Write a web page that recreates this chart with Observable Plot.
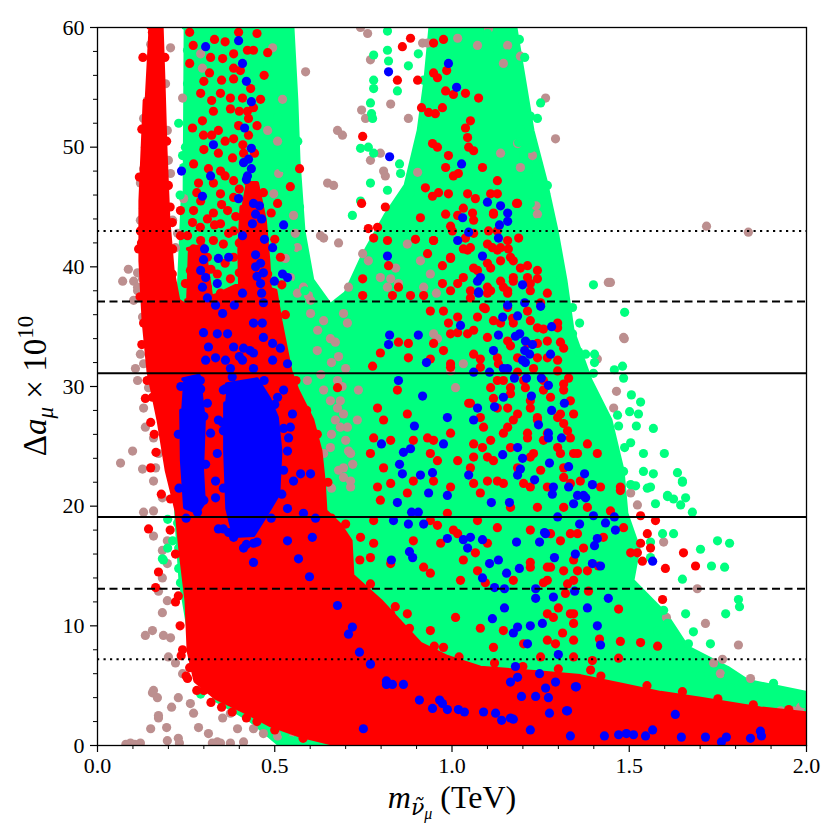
<!DOCTYPE html>
<html><head><meta charset="utf-8">
<script src="https://cdn.jsdelivr.net/npm/d3@7"></script>
<script src="https://cdn.jsdelivr.net/npm/@observablehq/plot@0.6"></script>
<style>body{margin:0;background:#fff}#chart{width:840px;height:840px}</style>
</head><body><div id="chart"></div>
<script>
const xMajorTicks=[0,0.5,1.0,1.5,2.0];
const xMinorTicks=[0.1,0.2,0.3,0.4,0.6,0.7,0.8,0.9,1.1,1.2,1.3,1.4,1.6,1.7,1.8,1.9];
const yMajorTicks=[0,10,20,30,40,50,60];
const yMinorTicks=[2,4,6,8,12,14,16,18,22,24,26,28,32,34,36,38,42,44,46,48,52,54,56,58];
const lines1sigma=[19.1,31.1];
const lines2sigma=[13.1,37.1];
const lines3sigma=[7.2,43.0];

// dense regions (outline of the point clouds)
const greenRegion=[[0.243,60],[0.550,60],[0.561,53.9],[0.567,48.9],[0.581,43.0],[0.606,38.9],[0.657,36.8],[0.700,37.8],[0.748,40.9],[0.812,44.3],[0.869,46.8],[0.906,51.4],[0.925,55.6],[0.939,60],[1.179,60],[1.199,56.4],[1.227,51.4],[1.264,47.2],[1.295,43.0],[1.320,38.9],[1.340,34.7],[1.391,30.5],[1.447,27.2],[1.481,23.0],[1.492,19.4],[1.526,16.5],[1.509,13.8],[1.602,11.0],[1.664,8.2],[1.777,6.5],[1.834,5.4],[2.0,4.4],[2.0,0],[0.516,0],[0.432,2.1],[0.333,3.8],[0.262,8.8],[0.234,13.8],[0.223,18.8],[0.212,27.2],[0.228,37.2],[0.240,45.5]];
const redRegion=[[0.144,60],[0.181,60],[0.186,55.6],[0.192,49.7],[0.200,43.9],[0.212,39.7],[0.228,37.2],[0.248,36.8],[0.276,37.2],[0.333,37.6],[0.389,38.4],[0.460,38.4],[0.502,38.0],[0.516,35.5],[0.544,31.3],[0.564,29.7],[0.606,27.2],[0.629,24.6],[0.638,22.1],[0.643,19.6],[0.685,18.4],[0.714,17.1],[0.719,14.2],[0.798,12.1],[0.911,8.5],[0.987,7.4],[1.080,6.5],[1.250,6.1],[1.362,5.8],[1.475,5.1],[1.588,4.4],[1.701,3.9],[1.870,3.1],[2.0,2.7],[2.0,0],[0.685,0],[0.573,0.8],[0.488,1.7],[0.417,2.8],[0.333,4.0],[0.276,5.4],[0.257,7.9],[0.251,12.1],[0.234,16.3],[0.223,19.6],[0.195,23.0],[0.172,27.2],[0.144,31.2],[0.130,35.5],[0.121,40.5],[0.121,45.5],[0.127,49.7],[0.133,53.9]];
const redCore1=[[0.418,47.0],[0.450,47.0],[0.472,43.9],[0.482,40.5],[0.488,37.2],[0.403,37.2],[0.400,41.4],[0.406,45.0]];
const redCore2=[[0.255,41.5],[0.300,41.8],[0.322,37.2],[0.250,37.2]];
const blueBlob=[[0.365,30.2],[0.450,30.6],[0.484,29.0],[0.506,27.4],[0.516,24.6],[0.510,21.0],[0.478,19.4],[0.440,17.6],[0.385,17.5],[0.366,19.8],[0.360,24.6],[0.360,28.6]];
const blueStrip=[[0.242,30.6],[0.286,30.9],[0.300,27.2],[0.295,23.0],[0.300,20.3],[0.282,19.5],[0.247,19.9],[0.238,23.8],[0.236,28.0]];

const brownPts=[[0.113,39.5],[0.102,38.8],[0.127,39.0],[0.141,39.9],[0.113,38.0],[0.121,43.9],[0.130,45.5],[0.121,47.0],[0.130,48.2],[0.135,50.0],[0.130,52.4],[0.141,53.9],[0.150,58.6],[0.164,59.1],[0.206,58.3],[0.192,55.3],[0.197,51.4],[0.200,48.9],[0.206,47.8],[0.197,46.8],[0.186,45.5],[0.212,43.9],[0.226,42.8],[0.220,41.6],[0.243,45.7],[0.240,54.1],[0.291,57.8],[0.296,56.6],[0.494,58.3],[0.522,54.0],[0.480,51.4],[0.508,50.5],[0.497,46.1],[0.511,47.8],[0.553,44.3],[0.558,42.8],[0.564,41.6],[0.530,40.7],[0.544,39.1],
[0.113,38.3],[0.102,37.2],[0.127,35.8],[0.150,34.7],[0.121,32.7],[0.130,31.9],[0.107,31.5],[0.113,30.5],[0.144,29.9],[0.130,28.2],[0.135,26.6],[0.158,25.7],[0.099,24.6],[0.127,23.1],[0.158,22.1],[0.183,20.7],[0.158,19.6],[0.197,17.1],[0.164,23.2],[0.172,24.4],[0.065,23.6],[0.087,39.8],[0.071,38.8],
[0.130,19.5],[0.158,17.5],[0.183,16.3],[0.197,15.2],[0.183,14.0],[0.172,12.9],[0.197,12.1],[0.183,11.1],[0.155,9.6],[0.186,9.2],[0.206,9.0],[0.200,7.4],[0.220,6.9],[0.240,6.0],[0.155,4.4],[0.169,4.0],[0.228,4.0],[0.262,3.5],[0.172,2.3],[0.271,2.7],[0.285,1.5],[0.150,1.4],[0.197,0.4],[0.093,0.2],[0.121,0.2],[0.228,0.6],[0.313,1.0],[0.353,2.3],[0.375,2.7],[0.395,1.4],[0.440,1.4],[0.338,0.3],[0.375,0.2],[0.412,0.3],[0.468,1.0],[0.508,0.8],[0.544,1.0],[0.581,1.5],[0.135,9.2],[0.172,2.5],[0.195,1.5],[0.209,3.2],[0.158,4.6],[0.231,0.2],[0.324,0.2],[0.347,0.2],[0.080,0.1],[0.105,0.1],
[1.842,5.6],[1.715,10.2],[1.808,8.4],[1.763,7.2],[1.738,6.9],[1.757,6.0],[1.692,13.1],[1.605,10.7],[1.597,17.0],[1.523,20.1],[1.504,21.1],[1.927,2.9],[1.963,2.9],[1.992,2.3],[1.983,3.2],[1.949,2.7],[1.447,38.7],[1.486,34.0],[1.464,29.6],[1.456,28.2],[1.410,32.3],[1.718,43.4],[1.836,42.9],
[0.742,60.0],[0.762,59.5],[0.587,56.3],[0.770,57.3],[0.917,58.7],[0.931,58.7],[1.016,59.1],[1.072,58.5],[1.103,59.9],[1.145,57.0],[1.193,57.6],[1.157,58.5],[1.264,54.1],[1.292,50.7],[0.677,51.4],[0.691,51.0],[0.745,53.1],[0.756,52.4],[0.827,53.6],[0.877,52.4],[0.798,49.5],[0.770,48.9],[0.807,48.0],[0.812,47.6],[0.903,47.9],[0.649,47.0],[0.666,46.8],[1.137,49.5],[1.185,50.3],[1.227,49.3],[1.241,44.4],[1.193,48.3],[0.629,42.6],[0.638,42.4],[0.680,42.0],[0.708,38.3],[0.595,37.6],[0.748,41.1],[0.764,40.5],[0.841,39.9],[0.874,41.9],[0.911,40.5],[0.939,39.4],[0.827,39.0],[0.798,39.1],
[0.705,35.3],[0.694,36.1],[0.671,33.7],[0.677,30.5],[0.685,28.8],[0.671,27.2],[0.705,26.6],[0.708,24.6],[0.694,22.4],[0.714,21.6],[0.733,27.2],[0.736,29.7],[0.959,34.0],[0.948,34.4],[0.996,31.3],[1.032,31.9],[1.010,29.9],[0.849,38.6],[0.818,38.3],[0.920,38.3],[1.441,38.7],[1.484,34.1],[1.237,45.1],[0.956,37.8],
[0.581,38.3],[0.601,36.1],[0.638,35.5],[0.621,34.7],[0.657,34.0],[0.592,30.5],[0.638,29.7],[0.657,28.8],[0.677,28.2],[0.694,27.7],[0.685,26.6],[0.657,24.9],[0.638,24.4],[0.714,24.4],[0.694,23.2],[0.714,22.1],[0.601,37.2],[0.564,37.8],[0.660,32.0],[0.680,32.5],[0.700,31.5],[0.690,30.0],[0.660,26.0],[0.700,25.5],[0.720,23.5],[0.680,23.0],[0.660,21.5],[0.620,33.0],[0.630,31.0]];

const greenPts=[[0.240,49.3],[0.243,48.3],[0.248,50.0],[0.254,55.3],[0.271,56.0],[0.254,58.1],[0.480,56.6],[0.494,55.3],[0.508,52.5],[0.502,51.8],[0.508,49.1],[0.522,48.3],[0.536,45.5],[0.544,41.6],[0.553,39.9],[0.539,38.6],[0.229,52.0],[0.233,46.0],[0.565,50.5],[0.570,45.0],[0.575,41.0],[0.585,38.0],
[0.818,59.7],[0.818,58.1],[0.779,57.7],[0.821,57.2],[0.877,56.8],[0.905,57.8],[0.920,55.6],[0.779,55.6],[0.779,54.9],[0.846,54.7],[0.770,53.7],[0.773,52.8],[0.776,52.4],[0.742,49.9],[0.764,50.0],[0.779,49.5],[0.852,48.6],[0.855,47.8],[0.770,47.0],[0.818,46.4],[0.855,45.5],[0.883,46.2],[0.719,44.3],[0.742,45.5],[1.250,53.7],[1.199,53.7],[1.221,52.6],[1.241,52.4],[1.193,51.5],[1.188,50.4],[1.221,49.9],[1.202,49.3],[1.236,47.6],[1.213,47.6],[1.269,46.8],[1.264,46.1],[1.221,45.3],[1.244,43.7],[1.269,43.3],[1.272,42.4],[1.292,39.9],[1.286,38.8],[1.399,38.5],[1.100,59.5],[1.114,58.9],[1.128,58.1],[1.157,57.8],[1.190,59.0],[1.205,57.5],[0.960,59.5],[0.955,58.0],
[1.306,38.8],[1.340,36.6],[1.487,36.2],[1.360,35.3],[1.340,34.4],[1.357,32.9],[1.377,32.7],[1.402,32.7],[1.402,32.0],[1.481,31.7],[1.458,31.4],[1.484,30.7],[1.399,31.1],[1.351,30.2],[1.506,29.3],[1.532,28.7],[1.501,27.9],[1.526,27.7],[1.467,27.6],[1.470,26.7],[1.520,26.7],[1.568,26.5],[1.599,24.4],[1.540,24.4],[1.487,24.9],[1.504,25.3],[1.540,22.9],[1.568,22.7],[1.636,22.8],[1.650,22.1],[1.484,22.9],[1.518,21.7],[1.551,21.5],[1.608,20.8],[1.659,20.7],
[1.504,21.8],[1.560,21.6],[1.650,22.0],[1.608,20.9],[1.625,20.6],[1.645,20.1],[1.678,19.5],[1.574,20.2],[1.594,17.7],[1.625,17.7],[1.560,17.0],[1.701,16.4],[1.749,17.1],[1.783,16.9],[1.732,15.0],[1.769,14.9],[1.560,15.7],[1.650,13.9],[1.808,12.2],[1.811,11.6],[1.772,11.0],[1.659,11.0],[1.681,9.5],[1.729,8.5],[1.780,5.8],[1.819,5.2],[1.870,4.3],[1.907,5.2],[1.955,3.6],[1.992,3.5],[1.927,4.3],[1.850,4.4],[1.786,4.8],[1.735,5.6],[1.701,5.8],[1.673,6.5],[1.636,6.7],[1.622,7.7],[1.636,8.8],[1.608,10.2],[1.580,9.6],[1.667,8.5],[1.560,11.3],[1.597,11.3],
[0.198,16.5],[0.229,16.5],[0.186,15.5],[0.229,14.8],[0.254,14.6],[0.234,13.6],[0.262,13.4],[0.291,4.3],[0.198,18.9],[0.226,18.6],[0.212,17.1],[0.183,15.6],[0.530,1.0],[0.545,0.4],[0.560,1.5]];

const redPts=[[0.260,59.6],[0.260,57.0],[0.319,57.5],[0.353,57.4],[0.384,57.8],[0.398,59.6],[0.423,58.1],[0.440,58.1],[0.480,57.9],[0.384,56.6],[0.403,56.4],[0.316,56.2],[0.384,55.7],[0.432,54.9],[0.291,54.5],[0.322,53.9],[0.347,54.5],[0.375,54.1],[0.409,54.1],[0.423,53.0],[0.327,53.0],[0.375,53.2],[0.440,53.3],[0.426,52.4],[0.268,51.6],[0.296,52.2],[0.341,51.4],[0.398,51.8],[0.384,50.7],[0.426,51.0],[0.299,51.0],[0.322,51.0],[0.341,49.5],[0.381,49.1],[0.271,48.6],[0.313,48.2],[0.347,48.0],[0.412,49.5],[0.443,49.5],[0.285,47.0],[0.327,47.0],[0.384,47.2],[0.291,45.5],[0.347,46.1],[0.384,45.8],[0.468,46.2],[0.508,45.3],[0.271,44.7],[0.327,44.5],[0.367,44.7],[0.268,43.7],[0.347,43.6],[0.384,43.0],[0.254,42.6],[0.291,42.2],[0.327,42.2],[0.355,41.9],[0.271,41.5],[0.285,40.5],[0.384,40.8],[0.412,41.1],[0.516,40.8],[0.262,39.7],[0.338,39.4],[0.375,39.0],[0.426,39.7],[0.480,39.4],[0.248,38.6],[0.310,38.3],[0.347,37.8],[0.389,38.0],[0.570,48.2],[0.544,46.7],[0.234,44.7],[0.234,42.6],
[0.270,58.5],[0.330,59.0],[0.360,58.8],[0.450,59.5],[0.470,56.0],[0.460,54.0],[0.300,55.5],[0.350,55.6],[0.400,53.0],[0.450,51.8],[0.360,50.5],[0.410,50.2],[0.300,49.8],[0.280,46.2],[0.360,47.6],[0.400,46.5],[0.310,44.0],[0.350,45.2],[0.390,44.2],[0.290,43.3],[0.330,43.5],[0.370,42.8],[0.400,42.0],[0.310,40.8],[0.360,40.3],[0.400,39.5],[0.280,39.0],[0.320,39.8],[0.490,44.5],[0.500,42.3],[0.520,38.5],[0.480,37.9],
[0.130,44.9],[0.121,43.0],[0.124,42.0],[0.200,46.8],[0.211,43.7],[0.197,40.5],[0.211,39.4],[0.130,35.3],[0.155,29.1],[0.150,23.2],[0.206,20.6],[0.144,18.1],[0.172,14.5],[0.164,13.2],[0.254,5.6],[0.155,59.6],
[0.128,57.5],[0.190,57.5],[0.125,51.5],[0.195,50.5],[0.118,47.5],[0.205,45.0],[0.116,41.5],[0.212,41.5],[0.120,37.5],[0.125,33.5],[0.135,29.0],[0.150,27.0],[0.165,24.5],[0.180,21.0],[0.205,18.0],[0.220,16.0],[0.228,12.5],[0.233,10.0],[0.236,7.5],[0.250,5.8],[0.280,4.6],[0.320,3.6],[0.380,2.8],[0.450,2.0],
[0.883,59.1],[0.860,58.4],[0.948,58.7],[0.976,59.0],[0.846,55.6],[0.903,55.6],[0.948,56.2],[0.959,55.8],[0.985,56.4],[0.982,54.7],[1.004,54.4],[1.038,54.5],[1.075,54.1],[0.914,53.3],[0.934,52.9],[0.953,52.8],[0.973,53.3],[1.052,52.2],[1.038,51.6],[0.748,50.9],[1.044,50.8],[0.945,50.3],[0.959,50.0],[1.047,50.0],[1.061,49.7],[0.990,49.3],[1.086,48.3],[0.982,48.3],[1.018,47.8],[1.004,47.6],[0.925,46.6],[0.945,45.9],[0.962,46.2],[0.990,46.1],[1.044,46.1],[1.066,45.7],[1.109,46.1],[1.128,46.1],[1.128,47.2],[0.745,45.3],[0.812,45.0],[0.911,44.1],[0.982,44.4],[1.016,44.3],[1.058,44.5],[1.117,44.5],[1.182,45.3],[0.764,43.2],[0.790,43.3],[0.779,42.4],[0.818,42.2],[0.897,42.3],[0.948,42.2],[1.001,43.0],[1.038,42.4],[1.061,42.8],[1.103,43.0],[1.188,42.4],[1.032,41.5],[1.052,41.6],[1.114,41.6],[1.137,41.6],[1.159,41.5],[0.821,40.1],[0.931,41.1],[0.973,40.1],[0.996,40.7],[1.061,39.9],[1.100,40.3],[1.137,40.5],[1.173,40.5],[1.213,40.1],[1.241,39.7],[0.748,39.0],[0.849,38.3],[0.883,37.6],[0.973,38.6],[1.016,38.6],[1.052,38.0],[1.100,38.3],[1.145,38.3],[1.173,38.8],[1.213,39.1],[1.241,39.0],
[1.032,44.9],[1.117,44.4],[1.185,45.3],[1.061,43.9],[0.996,43.4],[1.128,43.0],[1.100,41.9],[1.157,42.2],[0.996,40.8],[1.044,41.4],[1.128,41.4],[1.165,40.8],[1.193,39.9],[1.109,39.9],[1.072,39.7],[1.032,39.1],[1.137,38.8],[1.173,39.1],[1.221,38.6],[1.109,38.0],[1.157,37.8],[1.052,37.4],[1.089,36.6],[1.157,36.6],[1.213,36.3],[1.250,37.0],[0.976,36.3],[1.016,35.8],[1.072,35.8],[1.117,35.5],[1.173,35.3],[1.241,34.9],[1.298,35.3],[0.996,34.4],[1.044,34.4],[1.100,34.1],[1.157,33.8],[1.213,33.6],[1.269,33.8],[1.315,33.2],[0.976,33.0],[1.061,32.7],[1.128,32.4],[1.185,32.4],[1.241,32.4],[1.298,32.2],[0.996,31.9],[1.080,31.6],[1.145,30.5],[1.202,30.5],[1.258,30.5],[1.315,30.2],[1.109,29.9],[1.165,29.4],[1.221,28.8],[1.278,29.1],[1.334,28.8],[1.052,28.6],[1.128,28.2],[1.185,27.7],[1.241,27.4],[1.298,27.4],[1.343,27.7],[1.080,27.4],[1.157,26.6],[1.213,26.1],[1.269,26.1],[1.326,26.3],[1.109,25.5],[1.165,24.9],[1.230,24.4],[1.298,24.9],[1.343,24.4],[1.061,25.2],[1.117,23.8],[1.185,23.2],[1.250,23.0],[1.315,23.2],[1.052,23.2],[1.128,22.1],[1.202,21.9],[1.269,21.6],[1.334,21.9],[1.061,21.9],[0.996,21.6],[0.948,25.5],[0.959,23.8],[0.996,26.1],[0.948,33.6],[0.948,42.2],[0.996,38.0],
[0.748,37.6],[0.832,37.6],[0.920,37.6],[0.939,36.3],[0.990,35.3],[1.016,34.5],[1.061,34.7],[0.849,33.7],[0.877,33.6],[0.798,32.8],[0.776,31.7],[0.877,32.4],[0.939,32.3],[0.996,31.6],[1.080,32.3],[1.094,36.5],[1.100,37.8],[1.157,38.0],[1.221,38.0],[1.269,37.8],[1.137,35.3],[1.171,35.7],[1.221,35.5],[1.258,34.8],[1.298,34.9],[1.306,33.7],[1.165,33.4],[1.241,33.6],[1.269,32.4],[1.131,31.9],[1.185,31.2],[1.230,31.5],[1.298,31.3],[1.128,30.5],[1.165,29.9],[1.207,29.9],[1.258,29.7],[1.315,29.7],[1.047,28.6],[1.117,29.0],[1.157,28.2],[1.221,28.2],[1.306,27.7],[1.173,27.2],[1.241,27.2],[1.315,26.9],[1.089,26.6],[1.145,26.1],[1.213,25.7],[1.258,25.5],[1.334,25.7],[1.382,25.2],[1.086,24.9],[1.061,24.1],[1.100,24.1],[1.221,24.1],[1.306,24.4],[1.354,24.4],[1.410,24.4],[1.016,23.8],[1.100,22.1],[1.145,21.9],[1.221,21.6],[1.315,22.4],[1.362,22.1],[1.419,21.6],[1.475,21.6],[1.080,21.1],[1.165,19.9],[1.241,19.9],[1.315,19.9],[1.382,19.9],[1.447,19.6],[1.484,18.2],[1.427,17.4],[1.354,17.7],[1.278,17.7],[1.221,18.0],[1.128,18.2],[1.072,18.8],[1.016,17.7],
[0.677,29.9],[0.790,28.2],[0.846,29.7],[0.874,27.7],[0.807,27.2],[0.827,25.5],[0.891,25.5],[0.931,25.7],[0.939,24.4],[0.779,25.7],[0.770,24.4],[0.807,23.2],[0.827,21.9],[0.891,22.1],[0.948,22.1],[0.790,21.6],[0.874,21.1],[0.798,20.5],[0.987,19.4],[0.939,18.8],[0.779,18.8],[0.742,17.4],[0.891,17.1],[0.968,16.9],[0.779,16.9],[0.770,15.7],[0.827,15.2],[0.920,14.9],[1.032,15.5],[1.072,14.6],[1.221,14.9],[1.278,14.9],[1.354,14.6],
[0.959,18.4],[1.004,18.0],[1.100,16.9],[1.066,16.1],[1.221,15.3],[1.269,14.9],[1.315,14.6],[0.939,14.4],[1.024,13.8],[1.094,13.6],[1.173,13.8],[1.258,13.6],[1.326,13.5],[1.010,10.7],[1.080,9.8],[1.117,8.2],[1.145,9.6],[1.269,11.0],[1.334,11.0],[1.202,8.5],[1.269,8.8],[1.343,8.8],[1.250,7.4],[1.343,7.4],[0.976,8.2],[0.939,9.6],[0.874,11.0],[0.827,11.0],[0.846,10.2],[0.846,8.8],
[1.475,21.3],[1.532,19.2],[1.574,18.8],[1.551,17.7],[1.532,16.9],[1.560,16.5],[1.504,16.1],[1.523,16.1],[1.537,15.4],[1.602,14.8],[1.653,16.1],[1.687,15.0],[1.594,12.2],[1.470,11.4],[1.532,8.6],[1.580,8.3],[1.475,8.7],[1.470,7.3],[1.396,7.1],[1.416,8.9],[1.343,11.0],[1.343,10.2],[1.312,9.4],[1.292,8.5],[1.286,10.7],[1.300,11.5],[1.320,12.7],[1.269,13.8],[1.306,17.1],[1.334,17.7],[1.371,16.5],[1.343,15.5],[1.385,12.9],[1.343,13.8],[1.382,14.6],[1.413,15.0],[1.391,6.3],[1.368,5.3],[1.396,5.3],[1.662,3.6],[1.368,4.2],[1.329,30.7],
[0.740,15.5],[0.770,13.5],[0.840,11.6],[0.880,9.8],[0.950,8.3],[1.020,7.4],[1.120,6.9],[1.200,6.6],[1.300,6.4],[1.420,5.8],[1.550,5.0],[1.650,4.5],[1.750,3.9],[1.850,3.4],[1.950,3.0],[0.530,36.0],[0.560,30.5],[0.590,28.0],[0.620,26.0],[0.650,22.0],[0.660,19.0],[0.700,18.5],[0.160,26.0],[0.140,30.5],[0.220,12.0],[0.240,8.0],[0.260,6.5],[0.300,4.6],[0.350,3.2],[0.420,2.3],[0.500,1.3],[0.580,0.6]];

const bluePts=[[0.305,58.4],[0.398,58.9],[0.409,57.0],[0.420,55.5],[0.434,53.8],[0.415,51.6],[0.327,50.2],[0.434,49.9],[0.426,49.0],[0.412,48.7],[0.434,48.2],[0.423,47.6],[0.420,47.3],[0.319,47.6],[0.237,48.0],[0.296,45.9],[0.398,45.7],[0.440,45.3],[0.457,45.1],[0.446,44.4],[0.463,44.0],[0.437,43.6],[0.525,43.5],[0.409,42.6],[0.471,42.3],[0.494,41.6],[0.302,41.5],[0.341,40.7],[0.370,40.8],[0.299,40.6],[0.446,41.0],[0.446,40.0],[0.450,39.2],[0.460,40.3],[0.468,39.5],[0.291,39.7],[0.305,39.1],[0.499,38.8],[0.522,39.4],[0.536,39.1],[0.338,38.6],[0.296,38.3],[0.409,37.8],[0.463,37.8],
[0.460,38.6],[0.310,37.4],[0.333,36.8],[0.386,36.8],[0.468,37.0],[0.353,36.1],[0.440,35.3],[0.465,35.3],[0.299,34.5],[0.338,34.4],[0.367,34.4],[0.313,33.3],[0.384,33.3],[0.412,33.2],[0.468,34.1],[0.494,33.6],[0.516,33.2],[0.440,32.8],[0.305,32.2],[0.333,32.4],[0.361,32.2],[0.409,32.2],[0.536,31.9],[0.494,32.2],[0.375,31.5],[0.440,31.5],
[0.291,29.8],[0.310,28.6],[0.355,29.7],[0.341,27.2],[0.319,26.1],[0.355,26.3],[0.338,24.4],[0.333,22.1],[0.333,20.7],[0.282,19.5],[0.544,26.6],[0.539,25.7],[0.573,22.7],[0.601,22.7],[0.553,22.1],[0.536,24.6],[0.525,29.7],[0.508,29.1],[0.550,27.7],[0.581,19.4],[0.615,19.0],[0.536,17.1],[0.606,17.4],[0.567,15.6],[0.355,18.1],[0.384,17.4],[0.412,16.5],[0.440,16.9],
[0.400,32.5],[0.430,33.0],[0.380,30.8],[0.470,30.5],[0.500,28.5],[0.525,26.5],[0.525,23.0],[0.520,21.0],[0.490,19.0],[0.450,17.0],[0.420,16.8],[0.370,17.8],[0.355,21.5],[0.353,27.0],[0.360,29.8],[0.235,30.0],[0.290,30.5],[0.300,27.5],[0.305,23.5],[0.300,20.5],[0.250,19.0],[0.230,21.5],[0.228,26.0],
[0.440,15.3],[0.598,14.1],[0.677,11.7],[0.719,9.9],[0.708,9.3],[0.739,7.8],[0.770,6.8],[0.815,5.4],[0.750,1.4],[0.341,18.1],
[0.536,19.8],[0.846,20.3],[0.886,19.5],[0.905,19.5],[0.835,18.8],[0.877,18.5],[0.920,18.5],[1.111,20.3],[1.162,20.3],[0.987,17.3],[1.032,17.2],[1.052,17.4],[1.086,17.2],[1.044,16.5],[0.880,16.2],[0.889,15.7],[0.829,15.5],[1.182,17.0],[1.247,17.0],[1.261,17.8],[1.106,15.2],[1.131,15.5],[1.348,16.0],[1.289,15.7],[1.190,14.8],[1.154,14.4],[1.086,14.0],[1.120,13.2],[1.148,13.1],[1.236,13.1],[1.236,12.3],[1.286,12.4],[1.346,12.9],[1.148,11.5],[1.114,10.6],[1.185,9.9],[1.173,9.4],[1.221,10.0],[1.255,10.2],[1.213,8.5],[1.300,7.6],[1.179,6.6],[1.185,5.7],[1.165,5.3],[1.247,6.0],[1.292,5.3],[1.348,4.9],[1.196,4.1],[1.236,4.1],[1.264,4.8],[1.272,4.0],[0.832,5.1],[0.863,5.1],[0.815,5.1],[0.908,3.8],[0.965,3.8],[0.973,3.5],[0.987,3.0],[1.018,3.0],[1.035,2.8],[0.945,3.1],[1.089,2.8],[1.123,2.7],[1.140,2.1],[1.165,2.3],[1.173,2.2],[1.221,1.3],[1.275,2.7],[1.323,2.9],[1.334,0.8],
[1.286,21.6],[1.329,21.6],[1.396,21.8],[1.343,20.2],[1.354,20.9],[1.371,20.9],[1.377,20.7],[1.298,19.1],[1.399,19.2],[1.433,18.6],[1.458,19.1],[1.360,18.5],[1.461,18.0],[1.264,17.7],[1.402,16.7],[1.410,17.3],[1.396,15.2],[1.419,15.0],[1.566,15.4],[1.441,12.3],[1.382,11.5],[1.410,10.0],[1.419,8.4],[1.351,4.9],[1.326,2.9],[1.630,2.6],[1.566,1.3],[1.430,0.8],[1.470,0.9],[1.492,1.0],[1.512,0.9],[1.546,0.8],[1.647,0.7],[1.715,0.7],[1.760,0.3],[1.774,0.7],[1.842,0.6],[1.870,1.2],[1.873,0.8],
[1.072,38.8],[1.199,38.5],[1.075,37.9],[1.157,36.8],[1.205,37.0],[1.250,36.7],[1.024,35.1],[0.824,34.3],[0.821,33.5],[0.905,34.3],[1.143,35.8],[1.185,35.9],[1.131,34.3],[1.179,34.2],[1.191,34.4],[1.207,33.8],[1.227,33.5],[1.281,35.0],[1.117,33.0],[1.205,33.0],[1.219,32.7],[1.278,32.7],[1.199,32.2],[1.207,32.0],[0.928,32.0],[1.145,31.5],[1.157,31.5],[1.106,31.2],[1.061,31.2],[1.176,30.7],[1.210,30.7],[1.252,30.7],[0.849,30.5],[1.272,30.1],[0.917,29.2],[1.145,29.1],[1.224,29.2],[1.317,28.6],[1.072,28.2],[1.120,28.3],[1.281,28.0],[1.061,27.2],[0.987,27.4],[0.894,26.7],[1.244,26.8],[1.272,26.1],[1.272,25.7],[1.309,25.7],[0.801,25.2],[0.976,25.2],[1.185,24.9],[1.143,24.3],[1.199,24.0],[0.883,24.8],[0.863,24.5],[0.852,23.5],[0.860,22.7],[0.911,22.6],[0.945,22.8],[1.275,23.6],[1.329,23.3],[1.374,22.7],[1.193,23.1],[1.185,22.6],[1.233,22.2],[1.047,22.6],[1.283,21.0],[0.934,21.1],[0.987,20.9],
[0.990,57.0],[0.821,56.3],[1.013,55.0],[0.824,49.2],[1.027,48.6],[1.100,45.4],[1.137,45.1],[1.157,44.5],[1.157,43.8],[1.134,43.5],[1.030,44.1],[1.047,42.9],[1.131,42.4],[1.016,42.2],[0.818,40.9],[1.086,40.9],[1.080,39.1],[1.075,37.8]];

const C={brown:"#bc8f8f",green:"#00ff7f",red:"#ff0000",blue:"#0000ff"};
const R=4.6;
const poly=(d,c)=>Plot.line(d,{x:p=>p[0],y:p=>p[1],fill:c,stroke:c,strokeWidth:4,strokeLinejoin:"round",clip:true});
const pts=(d,c)=>Plot.dot(d,{x:p=>p[0],y:p=>p[1],r:R,fill:c,stroke:"none",clip:true});

const svg=Plot.plot({
  width:840,height:840,marginLeft:97,marginRight:34,marginTop:27,marginBottom:95,
  x:{domain:[0,2],label:null},y:{domain:[0,60],label:null},
  style:{fontFamily:'"Liberation Serif", serif',fontSize:"22px",color:"black",background:"white"},
  marks:[
    poly(greenRegion,C.green),
    pts(brownPts,C.brown),
    pts(greenPts,C.green),
    poly(redRegion,C.red),poly(redCore1,C.red),poly(redCore2,C.red),
    pts(redPts,C.red),
    poly(blueBlob,C.blue),poly(blueStrip,C.blue),
    pts(bluePts,C.blue),
    Plot.ruleY(lines1sigma,{stroke:"black",strokeWidth:2}),
    Plot.ruleY(lines2sigma,{stroke:"black",strokeWidth:2,strokeDasharray:"8,4.5"}),
    Plot.ruleY(lines3sigma,{stroke:"black",strokeWidth:2,strokeDasharray:"2.2,4.3"}),
    Plot.frame({stroke:"black",strokeWidth:1.3}),
    Plot.axisX({ticks:xMajorTicks,tickSize:7,tickPadding:5,tickFormat:d=>d.toFixed(1),label:null,strokeWidth:1.2,fontSize:22}),
    Plot.axisX({ticks:xMinorTicks,tickSize:4,tickFormat:()=>"",label:null,strokeWidth:1}),
    Plot.axisY({ticks:yMajorTicks,tickSize:7,tickPadding:6,tickFormat:d=>String(d),label:null,strokeWidth:1.2,fontSize:22}),
    Plot.axisY({ticks:yMinorTicks,tickSize:4,tickFormat:()=>"",label:null,strokeWidth:1})
  ]
});
document.getElementById("chart").appendChild(svg);
const s=d3.select(svg);
const xl=s.append("text").attr("x",452).attr("y",808).attr("text-anchor","middle")
  .attr("font-family",'"Liberation Serif", serif').attr("font-size",32).attr("fill","black");
xl.append("tspan").attr("font-style","italic").text("m");
xl.append("tspan").attr("font-style","italic").attr("font-size",22).attr("dy",7).attr("font-family",'"DejaVu Serif", serif').text("\u03bd\u0303");
xl.append("tspan").attr("font-style","italic").attr("font-size",16).attr("dy",4).text("\u03bc");
xl.append("tspan").attr("dy",-11).text(" (TeV)");
const yl=s.append("text").attr("transform","translate(46,386) rotate(-90)").attr("text-anchor","middle")
  .attr("font-family",'"Liberation Serif", serif').attr("font-size",33).attr("fill","black");
yl.append("tspan").text("\u0394");
yl.append("tspan").attr("font-style","italic").text("a");
yl.append("tspan").attr("font-style","italic").attr("font-size",23).attr("dy",7).text("\u03bc");
yl.append("tspan").attr("dy",-7).text(" \u00d7 10");
yl.append("tspan").attr("font-size",23).attr("dy",-13).text("10");
</script></body></html>
